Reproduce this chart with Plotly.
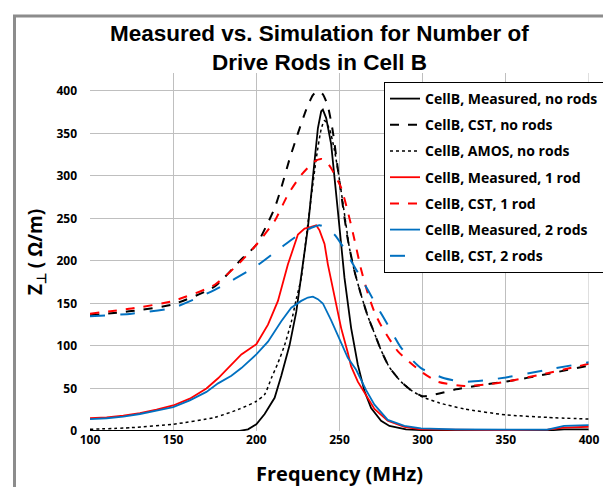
import plotly.graph_objects as go

# ---------------- data ----------------
meas0_x = [100, 150, 185, 190, 195, 200, 205, 211, 215, 220, 224, 227, 231, 234, 237, 239, 240, 242, 245,
           249, 253, 257, 261, 265, 269, 275, 280, 290, 300, 350, 375, 385, 390, 400]
meas0_y = [0, 0, 0, 0, 2, 8, 20, 39, 65, 101, 140, 180, 239, 298, 356, 376, 378, 368, 337,
           259, 180, 121, 78, 47, 27, 12, 6, 2, 1, 0.5, 0.5, 2, 2, 2]

cst0_x = [100, 125, 150, 175, 190, 200, 207, 211, 215, 220, 225, 230, 234, 237, 240, 243, 246, 249, 252,
          255, 259, 263, 267, 270, 275, 280, 287, 293, 300, 310, 320, 335, 350, 375, 400]
cst0_y = [136, 141, 149, 170, 200, 219, 245, 262, 286, 320, 350, 378, 395, 400, 396, 382, 352, 308, 265,
          225, 188, 160, 135, 120, 95, 75, 58, 48, 41, 44, 49, 54, 58, 67, 77]

amos0_x = [100, 125, 150, 175, 190, 200, 205, 209, 213, 217, 221, 224, 227, 230, 233, 236, 239, 241,
           244, 247, 250, 253, 256, 259, 263, 267, 270, 275, 280, 287, 293, 300, 310, 325, 350, 375, 400]
amos0_y = [2, 4, 8, 16, 26, 35, 43, 62, 80, 101, 128, 155, 180, 228, 275, 320, 355, 365,
           355, 330, 295, 255, 215, 188, 160, 135, 120, 95, 75, 58, 48, 40, 33, 26, 19, 16, 14]

meas1_x = [100, 110, 120, 130, 140, 150, 160, 170, 177, 185, 191, 200, 207, 213, 219, 225, 229, 233, 236,
           238, 241, 243, 247, 251, 255, 257, 261, 265, 271, 279, 289, 299, 320, 350, 375, 385, 400]
meas1_y = [15, 16, 18, 21, 25, 30, 38, 50, 62, 78, 90, 102, 125, 153, 196, 231, 238, 240, 242,
           236, 220, 196, 160, 121, 92, 76, 58, 45, 26, 12, 5, 2, 1.5, 1, 1.5, 4, 5]

cst1_x = [100, 125, 150, 175, 191, 200, 211, 219, 227, 235, 239, 242, 245, 251, 255, 259, 263, 267, 271,
          275, 285, 299, 309, 325, 340, 350, 375, 400]
cst1_y = [138, 144, 153, 172, 200, 219, 247, 278, 301, 317, 320, 317, 309, 286, 258, 225, 190, 162, 140,
          124, 94, 70, 58, 53, 55, 58, 68, 79]

meas2_x = [100, 110, 120, 130, 140, 150, 160, 170, 177, 185, 191, 200, 207, 215, 221, 227, 231, 234, 237,
           240, 245, 250, 255, 260, 263, 266, 271, 279, 289, 299, 320, 350, 375, 385, 400]
meas2_y = [14, 15, 17, 20, 24, 28, 36, 46, 56, 65, 74, 90, 105, 129, 145, 153, 157, 158, 155,
           150, 130, 108, 86, 72, 60, 48, 31, 13, 6, 3, 2, 1.5, 1.5, 6, 7]

cst2_x = [100, 125, 150, 175, 200, 215, 227, 233, 238, 243, 247, 252, 257, 262, 267, 273, 279, 287, 299,
          313, 325, 339, 350, 375, 400]
cst2_y = [135, 138, 145, 166, 194, 216, 233, 239, 242, 238, 231, 217, 200, 183, 166, 145, 125, 98, 74,
          62, 58, 60, 63, 72, 81]

x_ticks = [100, 150, 200, 250, 300, 350, 400]
y_ticks = [0, 50, 100, 150, 200, 250, 300, 350, 400]

names = ["CellB, Measured, no rods", "CellB, CST, no rods", "CellB, AMOS, no rods",
         "CellB, Measured, 1 rod", "CellB, CST, 1 rod", "CellB, Measured, 2 rods", "CellB, CST, 2 rods"]

# ---------------- figure ----------------
BLACK = "#000000"
RED = "#FF0000"
BLUE = "#0070C0"

series = [
    (meas0_x, meas0_y, BLACK, "solid", 1.8, "linear"),
    (cst0_x, cst0_y, BLACK, "dash", 2.0, "spline"),
    (amos0_x, amos0_y, BLACK, "dot", 1.5, "spline"),
    (meas1_x, meas1_y, RED, "solid", 1.8, "linear"),
    (cst1_x, cst1_y, RED, "dash", 2.0, "spline"),
    (meas2_x, meas2_y, BLUE, "solid", 1.8, "linear"),
    (cst2_x, cst2_y, BLUE, "longdash", 2.0, "spline"),
]

fig = go.Figure()
for i, (xs, ys, col, dash, w, shape) in enumerate(series):
    fig.add_trace(go.Scatter(
        x=xs, y=ys, mode="lines", name=names[i], legendgroup=str(i),
        line=dict(color=col, dash=dash, width=w, shape=shape, smoothing=0.6),
    ))

W, H = 611, 487
ml, mr, mt, mb = 82, 30, 65, 64
pw = W - ml - mr
ph = H - mt - mb

def px_to_paper_x(px):
    return (px - ml) / pw

def py_to_paper_y(py):
    return (H - mb - py) / ph

TXT = "Open Sans, Lato, sans-serif"

fig.update_layout(
    width=W, height=H,
    margin=dict(l=ml, r=mr, t=mt, b=mb, autoexpand=False),
    paper_bgcolor="white", plot_bgcolor="white",
    font=dict(family=TXT, color="black"),
    xaxis=dict(
        range=[100, 400], tickvals=x_ticks, ticktext=[str(v) for v in x_ticks],
        showgrid=True, gridcolor="#BFBFBF", gridwidth=1, zeroline=False,
        showline=False, ticks="", automargin=False,
        tickfont=dict(size=12, weight="bold"),
        title=dict(text="Frequency (MHz)", font=dict(size=20, weight="bold"), standoff=19),
    ),
    yaxis=dict(
        range=[0, 421], tickvals=y_ticks, ticktext=[str(v) for v in y_ticks],
        showgrid=True, gridcolor="#BFBFBF", gridwidth=1, zeroline=False,
        showline=False, ticks="", ticklabelstandoff=12, automargin=False,
        tickfont=dict(size=12, weight="bold"),
        title=dict(text="Z<sub>⊥</sub> ( Ω/m)", font=dict(size=19, weight="bold"), standoff=8),
    ),
    legend=dict(
        x=px_to_paper_x(376), y=py_to_paper_y(74), xanchor="left", yanchor="top",
        bordercolor="black", borderwidth=1, bgcolor="white",
        font=dict(size=14, weight="bold"), tracegroupgap=5,
    ),
    annotations=[
        dict(text="Measured vs. Simulation for Number of<br>Drive Rods in Cell B",
             xref="paper", yref="paper", x=px_to_paper_x(311), y=py_to_paper_y(11),
             xanchor="center", yanchor="top", showarrow=False,
             font=dict(family="Liberation Sans, Arial, sans-serif", size=22.5, weight="bold", color="black")),
    ],
    shapes=[
        dict(type="line", xref="x", yref="paper", x0=400, x1=400, y0=0, y1=1,
             line=dict(color="#BFBFBF", width=1)),
        dict(type="rect", xref="paper", yref="paper",
             x0=px_to_paper_x(6.5), x1=px_to_paper_x(620),
             y0=py_to_paper_y(485.5), y1=py_to_paper_y(8),
             line=dict(color="#8C8C8C", width=3), layer="below"),
    ],
)

fig.write_html("out.html")
